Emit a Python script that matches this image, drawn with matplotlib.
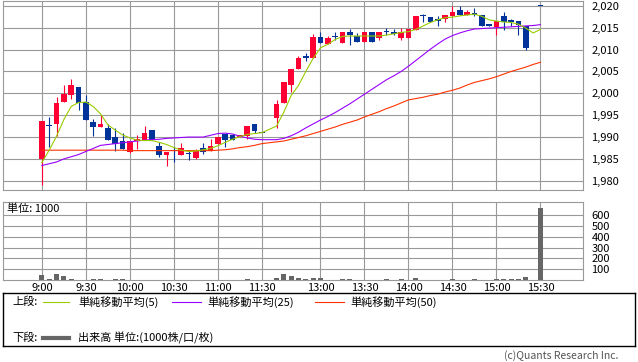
import matplotlib
matplotlib.use("Agg")
import matplotlib.pyplot as plt
import numpy as np

plt.rcParams['font.family'] = ['Noto Sans CJK JP', 'DejaVu Sans']

# 5-minute bars, morning 9:00-11:30, afternoon 12:30-15:30 (15:25 has no trade)
times = ([f"{9 + m // 60}:{m % 60:02d}" for m in range(0, 151, 5)] +
         [f"{9 + m // 60}:{m % 60:02d}" for m in range(210, 391, 5)])

nan = float('nan')
opens = [1985.0, 1992.5, 1993.0, 1998.0, 1999.6, 2001.5, 1998.0, 1993.5, 1992.4, 1992.1,
         1990.1, 1989.2, 1986.7, 1989.0, 1989.4, 1991.7, 1988.0, 1985.9, 1986.9, 1985.9,
         1986.2, 1985.3, 1987.5, 1986.9, 1988.5, 1990.7, 1990.5, 1990.0, 1990.3, 1993.0,
         1990.9,
         1994.3, 1997.9, 2001.8, 2005.5, 2008.6, 2008.0, 2012.8, 2011.3, 2012.8, 2011.6,
         2014.1, 2013.0, 2011.8, 2014.0, 2012.6, 2014.0, 2014.1, 2012.6, 2012.6, 2014.4,
         2017.6, 2017.4, 2017.0, 2017.0, 2017.6, 2019.1, 2017.9, 2018.3, 2017.9, 2015.9,
         2015.1, 2017.6, 2016.4, 2016.6, 2015.3, nan, 2020.0]
highs = [1993.6, 1994.7, 1999.2, 2002.0, 2003.2, 2001.5, 1999.7, 1994.2, 1995.1, 1993.0,
         1992.1, 1990.9, 1989.0, 1990.5, 1992.6, 1991.7, 1988.8, 1986.6, 1987.8, 1988.7,
         1987.1, 1987.2, 1988.6, 1989.5, 1990.1, 1990.7, 1990.7, 1990.5, 1992.6, 1993.0,
         1990.9,
         1998.5, 2002.6, 2005.5, 2008.6, 2009.3, 2013.6, 2014.1, 2013.0, 2014.0, 2014.0,
         2014.7, 2013.8, 2014.0, 2014.0, 2014.0, 2014.9, 2014.6, 2014.9, 2014.7, 2017.6,
         2018.2, 2017.4, 2017.6, 2018.0, 2020.0, 2020.0, 2019.1, 2019.6, 2017.9, 2015.9,
         2016.6, 2018.5, 2017.0, 2016.6, 2015.3, nan, 2020.0]
lows = [1979.0, 1987.8, 1990.3, 1998.0, 1998.8, 1996.3, 1993.9, 1990.3, 1992.4, 1989.4,
        1986.9, 1987.3, 1986.3, 1987.3, 1989.4, 1989.4, 1985.4, 1983.5, 1984.4, 1985.9,
        1984.8, 1984.9, 1986.2, 1986.9, 1988.5, 1987.8, 1989.4, 1990.0, 1989.5, 1991.0,
        1990.9,
        1992.0, 1997.9, 2000.4, 2005.5, 2007.3, 2008.0, 2011.5, 2011.3, 2012.2, 2011.6,
        2011.1, 2011.8, 2011.8, 2011.8, 2012.2, 2013.4, 2013.4, 2012.2, 2012.6, 2014.4,
        2016.4, 2016.4, 2015.3, 2016.4, 2017.6, 2017.8, 2017.9, 2017.6, 2015.3, 2015.3,
        2013.4, 2014.4, 2015.4, 2013.4, 2009.8, nan, 2020.0]
closes = [1993.6, 1992.5, 1997.7, 1999.8, 2002.0, 1997.7, 1993.9, 1992.4, 1993.0, 1989.4,
          1988.5, 1987.3, 1989.0, 1989.6, 1991.0, 1989.4, 1985.9, 1986.6, 1986.9, 1987.5,
          1986.2, 1986.9, 1986.5, 1988.0, 1990.1, 1989.4, 1989.4, 1990.5, 1992.6, 1991.5,
          1990.9,
          1997.6, 2002.6, 2005.5, 2008.0, 2008.0, 2012.8, 2011.5, 2012.6, 2012.8, 2014.0,
          2013.4, 2011.8, 2014.0, 2011.8, 2014.0, 2014.0, 2013.5, 2014.1, 2014.7, 2017.6,
          2017.6, 2016.4, 2016.6, 2018.0, 2018.5, 2017.8, 2018.5, 2017.8, 2015.3, 2015.3,
          2016.6, 2016.4, 2016.4, 2015.7, 2010.3, nan, 2020.0]
volume = [47, 10, 56, 37, 10, 3, 2, 10, 10, 3,
          10, 10, 4, 4, 4, 4, 4, 4, 4, 4,
          4, 4, 4, 4, 4, 4, 4, 4, 10, 4,
          4,
          20, 56, 37, 20, 5, 18, 18, 4, 4, 10,
          10, 4, 4, 4, 4, 10, 4, 10, 4, 18,
          4, 4, 4, 4, 10, 4, 4, 10, 4, 4,
          10, 10, 10, 10, 28, 0, 670]

sma5 = [1984.2, 1987.0, 1990.2, 1994.0, 1997.0, 1997.9, 1998.0, 1997.0, 1995.3, 1992.8,
        1991.6, 1990.5, 1989.8, 1989.3, 1989.2, 1989.2, 1988.8, 1988.3, 1987.6, 1987.0,
        1986.7, 1986.8, 1987.1, 1987.4, 1988.0, 1988.8, 1989.5, 1990.1, 1990.6, 1990.8,
        1991.0,
        1992.5, 1995.7, 1999.5, 2001.8, 2005.0, 2008.0, 2010.4, 2011.2, 2012.3, 2013.0,
        2013.1, 2013.1, 2013.1, 2013.1, 2013.1, 2013.3, 2013.6, 2013.9, 2014.1, 2014.6,
        2015.4, 2016.2, 2016.8, 2017.3, 2017.4, 2017.7, 2017.9, 2018.1, 2017.6, 2016.8,
        2016.5, 2016.3, 2016.2, 2015.8, 2014.9, 2013.8, 2014.6]
sma25 = [1983.5, 1983.9, 1984.3, 1985.0, 1985.5, 1986.0, 1986.7, 1987.4, 1988.1, 1988.3,
         1988.5, 1988.7, 1988.9, 1989.1, 1989.3, 1989.4, 1989.5, 1989.7, 1989.8, 1989.9,
         1990.0, 1990.0, 1990.0, 1990.4, 1990.8, 1990.9, 1990.7, 1990.2, 1989.8, 1989.5,
         1989.4,
         1989.4, 1989.7, 1990.3, 1991.1, 1992.1, 1993.0, 1993.9, 1994.7, 1995.6, 1996.6,
         1997.6, 1998.7, 1999.8, 2000.9, 2002.0, 2003.1, 2004.0, 2005.0, 2006.2, 2007.5,
         2008.8, 2010.1, 2011.3, 2012.4, 2013.2, 2013.8, 2014.3, 2014.7, 2014.8, 2014.9,
         2015.0, 2015.1, 2015.2, 2015.3, 2015.4, 2015.5, 2015.7]
sma50 = [1987.0, 1987.0, 1987.0, 1987.0, 1987.0, 1987.0, 1987.0, 1987.0, 1987.0, 1987.0,
         1987.0, 1987.0, 1986.9, 1986.9, 1986.9, 1986.9, 1986.9, 1986.9, 1986.9, 1986.9,
         1986.9, 1986.9, 1986.9, 1986.9, 1987.0, 1987.1, 1987.3, 1987.6, 1987.8, 1988.1,
         1988.5,
         1988.9, 1989.1, 1989.5, 1989.9, 1990.3, 1990.8, 1991.3, 1991.8, 1992.3, 1992.9,
         1993.4, 1993.9, 1994.6, 1995.2, 1995.8, 1996.5, 1997.1, 1997.8, 1998.5, 1998.8,
         1999.1, 1999.5, 1999.8, 2000.3, 2000.7, 2001.2, 2001.9, 2002.5, 2002.9, 2003.3,
         2003.8, 2004.4, 2005.0, 2005.5, 2006.0, 2006.6, 2007.1]

tick_labels = ["9:00", "9:30", "10:00", "10:30", "11:00", "11:30",
               "13:00", "13:30", "14:00", "14:30", "15:00", "15:30"]
price_ticks = [1980, 1985, 1990, 1995, 2000, 2005, 2010, 2015, 2020]
vol_ticks = [100, 200, 300, 400, 500, 600]


def slot_of(t):
    # lunch break squeezed to two slots
    h, m = map(int, t.split(":"))
    mins = (h - 9) * 60 + m
    return mins / 5 if mins <= 150 else mins / 5 - 10


x = np.array([slot_of(t) for t in times])
o, h, l, c = map(np.array, (opens, highs, lows, closes))
tick_pos = [slot_of(t) for t in tick_labels]

UP = '#ff0033'
DOWN = '#003399'
GRID = '#999999'

fig = plt.figure(figsize=(6.38, 3.62), dpi=100)
ax = fig.add_axes([3 / 638, 172 / 362, 580 / 638, 189 / 362])
vax = fig.add_axes([3 / 638, 82 / 362, 580 / 638, 78 / 362])

for a in (ax, vax):
    a.set_xlim(-5.3, 73.8)
    a.set_xticks(tick_pos)
    a.grid(True, color=GRID, lw=0.8)
    a.set_axisbelow(True)
    for s in a.spines.values():
        s.set_color(GRID)
        s.set_linewidth(0.8)
    a.yaxis.tick_right()
    a.tick_params(length=0, labelsize=8, pad=6)

# candles
ok = ~np.isnan(o)
cols = np.where(c > o, UP, DOWN)
ax.vlines(x[ok], l[ok], h[ok], colors=cols[ok], lw=0.8, zorder=3)
body_lo = np.minimum(o, c)
body_h = np.maximum(np.abs(c - o), 0.25)
ax.bar(x[ok], body_h[ok], bottom=body_lo[ok], width=0.8, color=cols[ok], lw=0, zorder=3)

ax.plot(x, sma50, color='#ff3300', lw=0.8, zorder=4)
ax.plot(x, sma25, color='#9900ff', lw=0.8, zorder=4)
ax.plot(x, sma5, color='#99cc00', lw=0.8, zorder=5)

ax.set_ylim(1977.9, 2021.1)
ax.set_yticks(price_ticks)
ax.set_yticklabels([f"{v:,}" for v in price_ticks])
ax.tick_params(axis='x', labelbottom=False)
for t in ax.get_yticklabels():
    t.set_horizontalalignment('left')

# volume
vax.bar(x, volume, width=0.68, color='#666666', lw=0, zorder=3)
vax.set_ylim(0, 725)
vax.set_yticks(vol_ticks)
vax.set_xticklabels(tick_labels)
vax.tick_params(axis='x', pad=2)
vax.text(0.007, 0.91, "単位: 1000", transform=vax.transAxes, fontsize=8,
         ha='left', va='center')

# legend box
lax = fig.add_axes([3 / 638, 16 / 362, 632 / 638, 53 / 362])
lax.set_xlim(3, 635)
lax.set_ylim(346, 293)
lax.set_xticks([])
lax.set_yticks([])
for s in lax.spines.values():
    s.set_color('black')
    s.set_linewidth(1)

lax.text(12, 302, "上段:", fontsize=8, va='center')
items = [(43, 69, 78, '#99cc00', "単純移動平均(5)"),
         (172, 201, 207, '#9900ff', "単純移動平均(25)"),
         (315, 344, 350, '#ff3300', "単純移動平均(50)")]
for x0, x1, xt, col, label in items:
    lax.plot([x0, x1], [302, 302], color=col, lw=0.8)
    lax.text(xt, 302, label, fontsize=8, va='center')
lax.text(12, 338, "下段:", fontsize=8, va='center')
lax.plot([43, 69], [338, 338], color='#666666', lw=3)
lax.text(78, 338, "出来高 単位:(1000株/口/枚)", fontsize=8, va='center')

fig.text(618 / 638, 1 - 356 / 362, "(c)Quants Research Inc.", fontsize=7.5,
         ha='right', va='center', color='#555555')

fig.savefig("out.png", dpi=100)
